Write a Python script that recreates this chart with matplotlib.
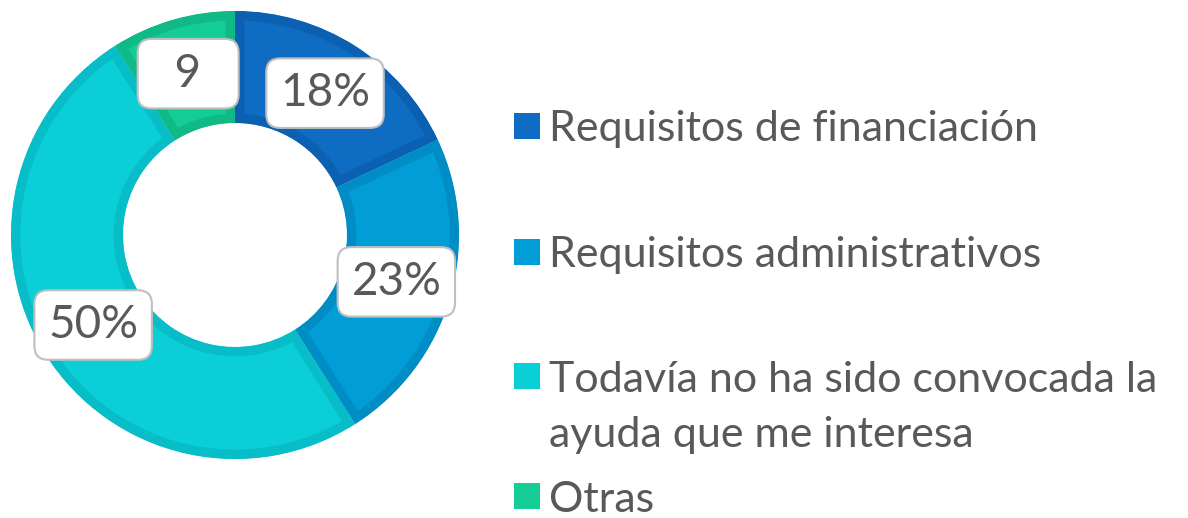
import matplotlib.pyplot as plt
import numpy as np
from matplotlib.patches import Rectangle, Wedge

# data
categories = ["Requisitos de financiación",
              "Requisitos administrativos",
              "Todavía no ha sido convocada la\nayuda que me interesa",
              "Otras"]
values = [18, 23, 50, 9]
value_labels = ["18%", "23%", "50%", "9"]

fills = ["#0E6DC2", "#009DD6", "#0BCFD6", "#14CC96"]
edges = ["#0C60B2", "#008DC5", "#07BDC7", "#10BA86"]
text_color = "#595959"

W, H = 1188, 518
fig = plt.figure(figsize=(W / 100, H / 100), dpi=100)
plt.rcParams['font.family'] = ['Lato', 'DejaVu Sans']

# donut axes: center (235, 235) px from top, outer radius 224 px
R = 224
cx, cy = 235, 235
half = 232
ax = fig.add_axes([(cx - half) / W, (H - cy - half) / H, 2 * half / W, 2 * half / H])

wedges, _ = ax.pie(values, radius=1.0, startangle=90, counterclock=False,
                   colors=fills, wedgeprops=dict(width=0.5))

# pie() resets the limits, so set them afterwards
ax.set_xlim(-half / R, half / R)
ax.set_ylim(-half / R, half / R)
ax.set_aspect('equal', adjustable='box')
ax.axis('off')

# darker inner border on each wedge: stroke clipped to the wedge shape
# (pie turns clipping off for its wedges, so switch it back on)
for w, ec in zip(wedges, edges):
    clip = Wedge(w.center, w.r, w.theta1, w.theta2, width=w.width,
                 transform=ax.transData)
    w.set_edgecolor(ec)
    w.set_linewidth(13.5)
    w.set_joinstyle('miter')
    w.set_clip_on(True)
    w.set_clip_path(clip)

# value labels at 0.75 radius, mid-angle of each wedge
for w, lab in zip(wedges, value_labels):
    ang = np.deg2rad((w.theta1 + w.theta2) / 2)
    x, y = 0.75 * np.cos(ang), 0.75 * np.sin(ang)
    shown = lab if len(lab) > 1 else f"  {lab}  "  # the short label keeps a wide box
    ax.text(x, y, shown, ha='center', va='center', fontsize=33, color=text_color,
            bbox=dict(boxstyle='round,pad=0.3,rounding_size=0.3', fc='white',
                      ec='#BFBFBF', lw=1.5))

# legend drawn by hand
sq = 26
sq_x = 514
text_x = 549
rows_y = [126, 252, 376, 496]  # center of first text line, px from top
for col, lab, yc in zip(fills, categories, rows_y):
    fig.patches.append(Rectangle((sq_x / W, (H - yc - sq / 2) / H), sq / W, sq / H,
                                 transform=fig.transFigure, fc=col, ec='none'))
    lines = lab.split("\n")
    for i, line in enumerate(lines):
        fig.text(text_x / W, (H - yc - 55 * i) / H, line, ha='left',
                 va='center_baseline', fontsize=31, color=text_color)

fig.savefig("out.png", dpi=100)
